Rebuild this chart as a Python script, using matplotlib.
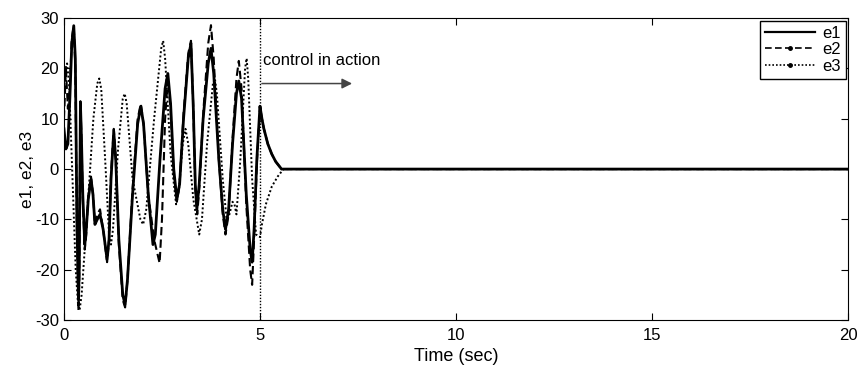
import numpy as np
import matplotlib
matplotlib.use("Agg")
import matplotlib.pyplot as plt
from matplotlib.lines import Line2D

plt.rcParams['font.family'] = ['Liberation Sans', 'DejaVu Sans']
plt.rcParams['axes.unicode_minus'] = False

# values (time in sec)
t1 = [0, 0.05, 0.1, 0.15, 0.2, 0.25, 0.29, 0.33, 0.37, 0.39, 0.42, 0.44, 0.48, 0.53,
      0.56, 0.62, 0.69, 0.74, 0.79, 0.85, 0.92, 1.0, 1.1, 1.15, 1.2, 1.27, 1.32, 1.4,
      1.5, 1.56, 1.62, 1.75, 1.88, 1.96, 2.03, 2.15, 2.27, 2.33, 2.45, 2.58, 2.65, 2.72,
      2.8, 2.88, 2.95, 3.05, 3.17, 3.24, 3.3, 3.35, 3.39, 3.45, 3.55, 3.68, 3.75, 3.82,
      3.95, 4.05, 4.12, 4.2, 4.3, 4.4, 4.46, 4.53, 4.65, 4.75, 4.8, 4.85, 4.92, 5.0,
      5.05, 5.1, 5.2, 5.3, 5.4, 5.55, 20]
e1 = [8, 4, 5, 14, 25, 28.5, 22, -10, -26, -20, 13, 8, -5, -15,
      -13, -6, -2, -5, -11, -10, -9, -12, -18, -14, -2, 7.5, 2, -14,
      -25, -27, -22, -5, 9, 12.5, 9, -5, -15, -13, 2, 16, 19, 13,
      0, -6, -3, 10, 22, 25, 12, -3, -8, -3, 10, 21, 24, 19,
      2, -8, -12, -8, 5, 15, 17.5, 14, -5, -16, -18.5, -12, 2, 12.5,
      10, 8, 5, 3, 1.5, 0, 0]

t2 = [0, 0.05, 0.1, 0.15, 0.2, 0.25, 0.29, 0.33, 0.37, 0.39, 0.42, 0.44, 0.48, 0.53,
      0.56, 0.62, 0.69, 0.74, 0.79, 0.85, 0.92, 1.0, 1.1, 1.15, 1.2, 1.27, 1.32, 1.4,
      1.5, 1.56, 1.62, 1.75, 1.88, 1.96, 2.03, 2.15, 2.3, 2.44, 2.5, 2.58, 2.65, 2.72,
      2.8, 2.88, 2.95, 3.05, 3.17, 3.24, 3.3, 3.35, 3.4, 3.46, 3.56, 3.68, 3.75, 3.82,
      3.95, 4.05, 4.12, 4.2, 4.3, 4.4, 4.46, 4.53, 4.65, 4.75, 4.8, 4.85, 4.92, 5.0,
      5.05, 5.1, 5.2, 5.3, 5.4, 5.55, 20]
e2 = [10, 20, 12, 16, 26, 28.5, 20, -12, -28, -22, 13.5, 8, -6, -16,
      -14, -5, -1.5, -5, -11, -9, -8, -12, -18.5, -14, -1, 8, 2, -15,
      -26, -27.5, -22, -4, 10, 13, 9, -5, -14, -18.7, -10, 10, 18, 12,
      -1, -6.5, -3, 11, 23, 25.5, 12, -4, -9, -3, 12, 25, 28.6, 22,
      2, -9, -13, -9, 6, 18, 21.5, 16, -7, -20, -23, -14, 1, 12.5,
      10, 8, 5, 3, 1.5, 0, 0]

t3 = [0, 0.04, 0.08, 0.13, 0.2, 0.3, 0.36, 0.4, 0.45, 0.6, 0.75, 0.85, 0.9, 0.95,
      1.05, 1.15, 1.2, 1.25, 1.38, 1.5, 1.55, 1.6, 1.75, 1.95, 2.02, 2.1, 2.3, 2.48,
      2.53, 2.58, 2.72, 2.86, 2.93, 3.03, 3.1, 3.17, 3.3, 3.45, 3.52, 3.65, 3.8, 3.85,
      3.9, 4.05, 4.15, 4.22, 4.3, 4.35, 4.4, 4.5, 4.62, 4.66, 4.7, 4.8, 4.9, 5.0,
      5.05, 5.15, 5.3, 5.45, 5.6, 20]
e3 = [15, 20, 21, 17, 2, -20, -27, -28, -25, -8, 10, 17, 18, 16,
      2, -13, -15, -12, 4, 14, 15, 13, -2, -10, -11, -8, 10, 24,
      25.5, 22, 3, -7, -4, 5, 8, 5, -6, -13, -10, 5, 17, 18,
      15, -2, -10, -9, -6.5, -7, -9, 2, 20, 22, 18, -2, -13, -13.5,
      -11, -7, -3.5, -1.5, 0, 0]

fig = plt.figure(figsize=(8.62, 3.70), dpi=100)
ax = fig.add_axes([0.0742, 0.135, 0.9096, 0.816])

ax.plot(t1, e1, color='black', lw=2.0, ls='-')
ax.plot(t2, e2, color='black', lw=1.5, ls=(0, (4, 2)))
ax.plot(t3, e3, color='black', lw=1.4, ls=(0, (1, 1.2)))

# control switch line
ax.plot([5, 5], [-30, 30], color='black', lw=1.0, ls=(0, (1, 1.2)))
ax.annotate('', xy=(7.35, 17), xytext=(5.05, 17),
            arrowprops=dict(arrowstyle='-|>', color='#444444', lw=1.1,
                            mutation_scale=15, shrinkA=0, shrinkB=0))
ax.text(5.08, 21.5, 'control in action', fontsize=12, ha='left', va='center')

ax.set_xlim(0, 20)
ax.set_ylim(-30, 30)
ax.set_xticks([0, 5, 10, 15, 20])
ax.set_yticks([-30, -20, -10, 0, 10, 20, 30])
ax.tick_params(direction='in', top=True, right=True, labelsize=12, length=5)
ax.tick_params(axis='x', pad=6)
ax.set_xlabel('Time (sec)', fontsize=13, labelpad=3)
ax.set_ylabel('e1, e2, e3', fontsize=12.5, labelpad=0)

handles = [Line2D([], [], color='black', lw=1.6, ls='-'),
           Line2D([], [], color='black', lw=1.2, ls=(0, (4, 2)), marker='.', ms=5),
           Line2D([], [], color='black', lw=1.2, ls=(0, (1, 1.2)), marker='.', ms=5)]
ax.legend(handles, ['e1', 'e2', 'e3'], loc='upper right', fontsize=12,
          fancybox=False, edgecolor='black', framealpha=1, numpoints=1,
          handlelength=3.0, borderaxespad=0.15, handletextpad=0.4,
          labelspacing=0.1, borderpad=0.3)

fig.savefig('out.png', dpi=100)
